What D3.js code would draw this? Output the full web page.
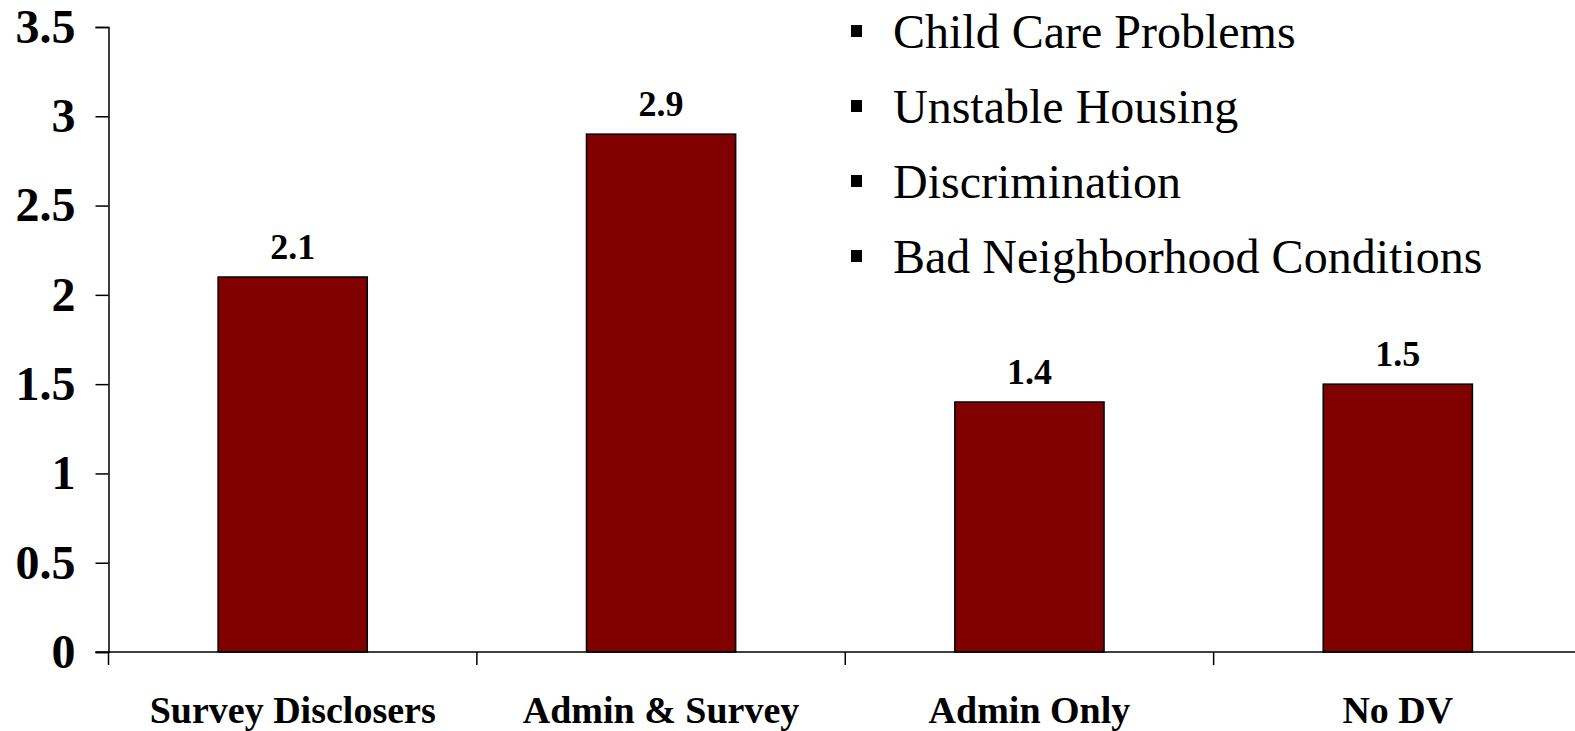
<!DOCTYPE html>
<html>
<head>
<meta charset="utf-8">
<script src="https://cdn.jsdelivr.net/npm/d3@7"></script>
<style>
  html, body { margin: 0; padding: 0; background: #fff; }
  svg { display: block; }
  text { font-family: "Liberation Serif", "Times New Roman", Times, serif; }
</style>
</head>
<body>
<svg id="chart" width="1575" height="731"></svg>
<script>
// Average number of barriers by group
const categories = ["Survey Disclosers", "Admin & Survey", "Admin Only", "No DV"];
const values = [2.1, 2.9, 1.4, 1.5];
const yTicks = [0, 0.5, 1, 1.5, 2, 2.5, 3, 3.5];
const barrierItems = ["Child Care Problems", "Unstable Housing", "Discrimination", "Bad Neighborhood Conditions"];

const svg = d3.select("#chart");
const W = 1575, H = 731;
const plotLeft = 108.5, plotRight = 1582, plotTop = 27, plotBottom = 652;

const x = d3.scaleBand()
  .domain(categories)
  .range([plotLeft, plotRight])
  .paddingInner(0.595)
  .paddingOuter(0.2975);

const y = d3.scaleLinear().domain([0, 3.5]).range([plotBottom, plotTop]);

// Y axis
const yAxis = d3.axisLeft(y)
  .tickValues(yTicks)
  .tickSize(13)
  .tickPadding(20)
  .tickFormat(d => String(d));

const yg = svg.append("g")
  .attr("transform", `translate(${plotLeft},0)`)
  .call(yAxis);
yg.select(".domain").attr("stroke", "#000").attr("stroke-width", 1.5);
yg.selectAll(".tick line").attr("stroke", "#000").attr("stroke-width", 1.5);
yg.selectAll(".tick text")
  .attr("fill", "#000")
  .style("font-family", "'Liberation Serif', 'Times New Roman', serif")
  .style("font-weight", "bold")
  .style("font-size", "48px");

// Bars
svg.append("g").selectAll("rect")
  .data(values)
  .join("rect")
  .attr("x", (d, i) => x(categories[i]))
  .attr("y", d => y(d))
  .attr("width", x.bandwidth())
  .attr("height", d => y(0) - y(d))
  .attr("fill", "#800000")
  .attr("stroke", "#000")
  .attr("stroke-width", 1.5);

// Value labels
svg.append("g").selectAll("text")
  .data(values)
  .join("text")
  .attr("x", (d, i) => x(categories[i]) + x.bandwidth() / 2)
  .attr("y", d => y(d) - 18)
  .attr("text-anchor", "middle")
  .style("font-weight", "bold")
  .style("font-size", "36px")
  .attr("fill", "#000")
  .text(d => d.toFixed(1));

// X axis line with ticks between categories
const xg = svg.append("g");
xg.append("line")
  .attr("x1", plotLeft - 13).attr("x2", W)
  .attr("y1", y(0)).attr("y2", y(0))
  .attr("stroke", "#000").attr("stroke-width", 1.5);
const boundaries = d3.range(categories.length + 1).map(i => x.range()[0] + i * x.step());
xg.selectAll("line.tick")
  .data(boundaries)
  .join("line")
  .attr("class", "tick")
  .attr("x1", d => d).attr("x2", d => d)
  .attr("y1", y(0)).attr("y2", y(0) + 13)
  .attr("stroke", "#000").attr("stroke-width", 1.5);

// Category labels
xg.selectAll("text")
  .data(categories)
  .join("text")
  .attr("x", d => x(d) + x.bandwidth() / 2)
  .attr("y", 723)
  .attr("text-anchor", "middle")
  .style("font-weight", "bold")
  .style("font-size", "38px")
  .attr("fill", "#000")
  .text(d => d);

// Bulleted list of barriers
const list = svg.append("g");
const rows = list.selectAll("g")
  .data(barrierItems)
  .join("g")
  .attr("transform", (d, i) => `translate(0,${48 + i * 75})`);
rows.append("rect")
  .attr("x", 851).attr("y", -23)
  .attr("width", 11).attr("height", 12)
  .attr("fill", "#000");
rows.append("text")
  .attr("x", 893).attr("y", 0)
  .style("font-size", "48px")
  .attr("fill", "#000")
  .text(d => d);
</script>
</body>
</html>
